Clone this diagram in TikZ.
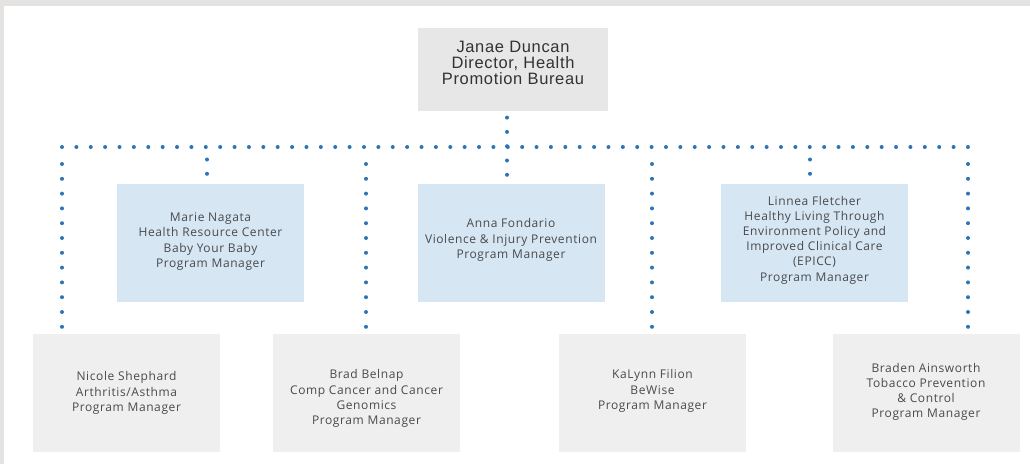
\documentclass[tikz,border=0pt]{standalone}
\usepackage{fontspec}
\usetikzlibrary{decorations.markings}
\setmainfont{Open Sans}[LetterSpace=5]
\newfontfamily\headfont{Liberation Sans}[LetterSpace=4]
\definecolor{dotblue}{RGB}{46,117,182}
\definecolor{headgray}{RGB}{231,231,231}
\definecolor{boxgray}{RGB}{239,239,239}
\definecolor{boxblue}{RGB}{214,230,242}
\definecolor{framegray}{RGB}{228,227,225}
\definecolor{txtgray}{RGB}{72,74,78}
\begin{document}
\begin{tikzpicture}[x=1pt,y=-1pt,
  headbox/.style={fill=headgray, minimum width=190pt, minimum height=83pt,
    inner sep=0pt},
  headtext/.style={inner sep=0pt, align=center, text=black!80,
    font=\headfont\fontsize{16.5}{16.2}\selectfont},
  staffbox/.style={minimum width=187pt, minimum height=118pt, inner sep=0pt},
  graybox/.style={staffbox, fill=boxgray},
  bluebox/.style={staffbox, fill=boxblue},
  stafftext/.style={inner sep=0pt, align=center, text=txtgray,
    font=\fontsize{12}{15.2}\selectfont},
  % a row of round dots along a path, #1 apart
  dotrow/.style={decoration={markings,
      mark=between positions 0 and 1 step #1 with {\fill[dotblue] (0,0) circle (2pt);}},
    postaction={decorate}},
  dotv/.style={dotrow=14.8pt},
  doth/.style={dotrow=14.38pt},
  dotc/.style={dotrow=14.3pt}]

% page area and frame strips
\fill[white] (0,0) rectangle (1030,464);
\fill[framegray] (0,0) rectangle (1030,6);
\fill[framegray] (0,0) rectangle (4,464);

% director
\node[headbox] (top) at (513,69.5) {};
\node[headtext] (topt) at ([yshift=6.5pt]top.center) {Janae Duncan\\Director, Health\\Promotion Bureau};

% program managers, upper row
\node[bluebox] (marie) at (210.5,243) {};
\node[bluebox] (anna) at (511,243) {};
\node[bluebox] (linnea) at (814.5,243) {};
\node[stafftext] (mariet) at ([yshift=1.5pt]marie.center) {Marie Nagata\\Health Resource Center\\Baby Your Baby\\Program Manager};
\node[stafftext] (annat) at ([yshift=3pt]anna.center) {Anna Fondario\\Violence \& Injury Prevention\\Program Manager};
\node[stafftext] (linneat) at ([yshift=3pt]linnea.center) {Linnea Fletcher\\Healthy Living Through\\Environment Policy and\\Improved Clinical Care\\(EPICC)\\Program Manager};

% program managers, lower row
\node[graybox] (nicole) at (126.5,393) {};
\node[graybox] (brad) at (366.5,393) {};
\node[graybox] (kalynn) at (652.5,393) {};
\node[graybox] (braden) at (926,393) {};
\node[stafftext] (nicolet) at (nicole.center) {Nicole Shephard\\Arthritis/Asthma\\Program Manager};
\node[stafftext] (bradt) at ([yshift=-5.5pt]brad.center) {Brad Belnap\\Comp Cancer and Cancer\\Genomics\\Program Manager};
\node[stafftext] (kalynnt) at ([yshift=2pt]kalynn.center) {KaLynn Filion\\BeWise\\Program Manager};
\node[stafftext] (bradent) at ([yshift=1pt]braden.center) {Braden Ainsworth\\Tobacco Prevention\\\& Control\\Program Manager};

% junctions on the horizontal bus
\coordinate (jL) at (62,147);
\coordinate (jR) at (968,147);
\coordinate (jM) at (207,147);
\coordinate (jB) at (366,147);
\coordinate (jK) at (652,147);
\coordinate (jF) at (810,147);

% points where the drops meet the boxes
\coordinate (mN) at (jM |- marie.north);
\coordinate (fN) at (jF |- linnea.north);
\coordinate (lN) at (jL |- nicole.north);
\coordinate (bN) at (jB |- brad.north);
\coordinate (kN) at (jK |- kalynn.north);
\coordinate (rN) at (jR |- braden.north);
\coordinate (tA) at ([xshift=-4pt]top.south -| anna.north);
\coordinate (aN) at (tA |- anna.north);

% bus
\path[doth] (jL) -- ([xshift=1pt]jR);

% trunk and drops to the upper row, dotted upward from the boxes
\path[dotc] ([yshift=9pt]aN) -- ([yshift=-6pt]tA);
\path[dotc] ([yshift=10pt]mN) -- ([yshift=-12pt]jM);
\path[dotc] ([yshift=10pt]fN) -- ([yshift=-12pt]jF);

% drops to the lower row
\path[dotv] ([yshift=-17pt]jL) -- ([yshift=5pt]lN);
\path[dotv] ([yshift=-17pt]jB) -- ([yshift=5pt]bN);
\path[dotv] ([yshift=-17pt]jK) -- ([yshift=5pt]kN);
\path[dotv] ([yshift=-17pt]jR) -- ([yshift=5pt]rN);
\end{tikzpicture}
\end{document}
